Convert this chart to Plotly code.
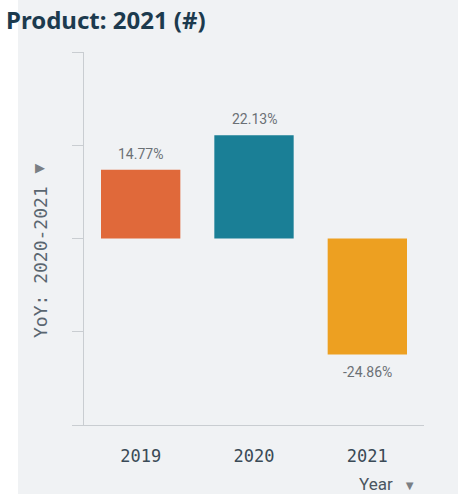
import plotly.graph_objects as go

# Year-over-year change by year
years = ["2019", "2020", "2021"]
yoy_pct = [14.77, 22.13, -24.86]
bar_colors = ["#e0693a", "#1a7f96", "#eda021"]
y_ticks = [-40, -20, 0, 20, 40]

W, H = 458, 494
ML, MR, MT, MB = 84, 34, 52, 69
PW, PH = W - ML - MR, H - MT - MB

BG = "#f0f2f4"
AXIS = "#c9cdd1"
LABEL = "#6b7075"

fig = go.Figure()
fig.add_trace(go.Bar(
    x=years,
    y=yoy_pct,
    marker=dict(color=bar_colors, line=dict(width=0)),
    width=0.7,
    hoverinfo="skip",
))

# value labels above positive bars / below negative bars
# (category positions are given by index so they are not read as numbers)
for i, v in enumerate(yoy_pct):
    fig.add_annotation(
        x=i, y=v, xref="x", yref="y",
        text=f"{v:.2f}%",
        showarrow=False,
        yanchor="bottom" if v >= 0 else "top",
        yshift=6 if v >= 0 else -8,
        font=dict(family="Roboto", size=14, color=LABEL),
    )

# chart title
fig.add_annotation(
    xref="paper", yref="paper",
    x=(4 - ML) / PW, y=1 + (MT - 20) / PH,
    xanchor="left", yanchor="middle",
    text="<b>Product: 2021 (#)</b>",
    showarrow=False,
    font=dict(family="Noto Sans", size=24, color="#1c3a4e"),
)

# rotated y-axis title with dropdown marker
fig.add_annotation(
    xref="paper", yref="paper",
    x=(40 - ML) / PW, y=1 - (262 - MT) / PH,
    text="YoY: 2020-2021",
    textangle=-90,
    showarrow=False,
    xanchor="center", yanchor="middle",
    font=dict(family="DejaVu Sans Mono", size=18, color="#5a6670"),
)
fig.add_annotation(
    xref="paper", yref="paper",
    x=(40 - ML) / PW, y=1 - (167 - MT) / PH,
    text="▶",
    showarrow=False,
    xanchor="center", yanchor="middle",
    font=dict(family="DejaVu Sans", size=13, color="#7a7f84"),
)

# x-axis title with dropdown marker
fig.add_annotation(
    xref="paper", yref="paper",
    x=(357 - ML) / PW, y=-(484 - MT - PH) / PH,
    xanchor="left", yanchor="middle",
    text="Year <span style='font-size:13px;color:#7a7f84'>&nbsp;&nbsp;▼</span>",
    showarrow=False,
    font=dict(family="Roboto", size=17, color="#4a5560"),
)

fig.update_layout(
    width=W, height=H,
    margin=dict(l=ML, r=MR, t=MT, b=MB),
    paper_bgcolor=BG,
    plot_bgcolor=BG,
    showlegend=False,
    bargap=0.3,
    shapes=[dict(
        type="rect", xref="paper", yref="paper", layer="below",
        x0=-ML / PW, x1=(18 - ML) / PW,
        y0=-MB / PH, y1=1 + MT / PH,
        fillcolor="white", line=dict(width=0),
    )],
    xaxis=dict(
        type="category",
        categoryorder="array", categoryarray=years,
        range=[-0.5, len(years) - 0.5],
        showgrid=False, zeroline=False,
        showline=True, linecolor=AXIS, linewidth=1,
        ticks="", ticklabelstandoff=16,
        tickfont=dict(family="DejaVu Sans Mono", size=17, color="#3a4a56"),
        fixedrange=True,
    ),
    yaxis=dict(
        range=[-40, 40],
        tickvals=y_ticks,
        showticklabels=False,
        showgrid=False, zeroline=False,
        showline=True, linecolor=AXIS, linewidth=1,
        ticks="outside", ticklen=11, tickcolor=AXIS, tickwidth=1,
        fixedrange=True,
    ),
)

fig.write_html("out.html")
